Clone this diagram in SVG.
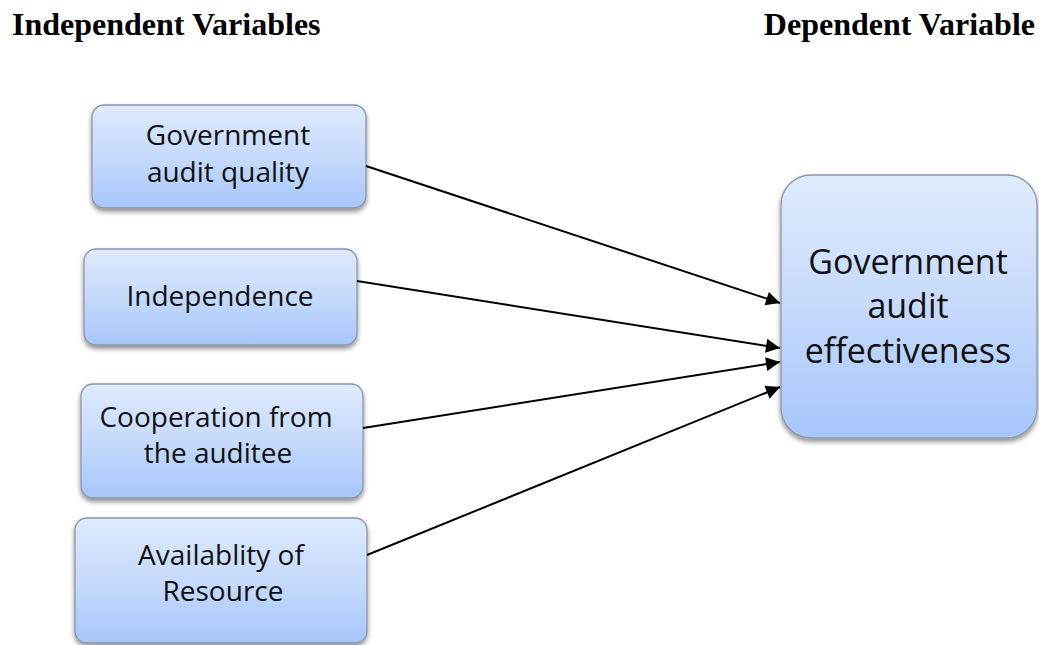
<svg xmlns="http://www.w3.org/2000/svg" width="1039" height="645" viewBox="0 0 1039 645">
<style>
.hd{font-family:"Liberation Serif","Times New Roman",serif;font-weight:bold;font-size:32px;fill:#000}
.bx{fill:url(#g);stroke:#8a96aa;stroke-width:1.3;filter:url(#sh)}
.t{font-family:"Open Sans","Noto Sans",sans-serif;font-size:28px;fill:#111;text-anchor:middle}
.tb{font-family:"Open Sans","Noto Sans",sans-serif;font-size:34px;fill:#111;text-anchor:middle}
.ln{stroke:#000;stroke-width:2;fill:none;marker-end:url(#ah)}
</style>
<defs>
<linearGradient id="g" x1="0" y1="0" x2="0" y2="1">
<stop offset="0" stop-color="#dfeafd"/>
<stop offset="0.5" stop-color="#c6dafc"/>
<stop offset="1" stop-color="#a6c6fa"/>
</linearGradient>
<filter id="sh" x="-10%" y="-10%" width="120%" height="130%">
<feGaussianBlur in="SourceAlpha" stdDeviation="2.5"/>
<feOffset dx="0" dy="3" result="b"/>
<feComponentTransfer><feFuncA type="linear" slope="0.45"/></feComponentTransfer>
<feMerge><feMergeNode/><feMergeNode in="SourceGraphic"/></feMerge>
</filter>
<marker id="ah" viewBox="0 0 10 10" refX="10" refY="5" markerWidth="9" markerHeight="7" orient="auto" markerUnits="strokeWidth">
<path d="M0,0 L10,5 L0,10 z" fill="#000"/>
</marker>
</defs>
<text class="hd" x="12" y="35">Independent Variables</text>
<text class="hd" x="1035" y="35" text-anchor="end">Dependent Variable</text>
<g id="n1"><rect class="bx" x="92" y="105" width="274" height="103" rx="12"/>
<text class="t" x="228" y="145">Government</text><text class="t" x="228" y="182">audit quality</text></g>
<g id="n2"><rect class="bx" x="84" y="249" width="273" height="96" rx="12"/>
<text class="t" x="220" y="306">Independence</text></g>
<g id="n3"><rect class="bx" x="81" y="384" width="282" height="114" rx="12"/>
<text class="t" x="216" y="427">Cooperation from</text><text class="t" x="218" y="463">the auditee</text></g>
<g id="n4"><rect class="bx" x="75" y="518" width="292" height="125" rx="12"/>
<text class="t" x="221" y="565">Availablity of</text><text class="t" x="223" y="601">Resource</text></g>
<g id="n5"><rect class="bx" x="781" y="175" width="256" height="263" rx="30"/>
<text class="tb" x="908" y="274">Government</text><text class="tb" x="908" y="318">audit</text><text class="tb" x="908" y="363">effectiveness</text></g>
<g id="connectors">
<line class="ln" x1="366" y1="166" x2="780" y2="303"/>
<line class="ln" x1="357" y1="281" x2="780" y2="348"/>
<line class="ln" x1="363" y1="428" x2="780" y2="362"/>
<line class="ln" x1="367" y1="555" x2="780" y2="387"/>
</g>
</svg>
